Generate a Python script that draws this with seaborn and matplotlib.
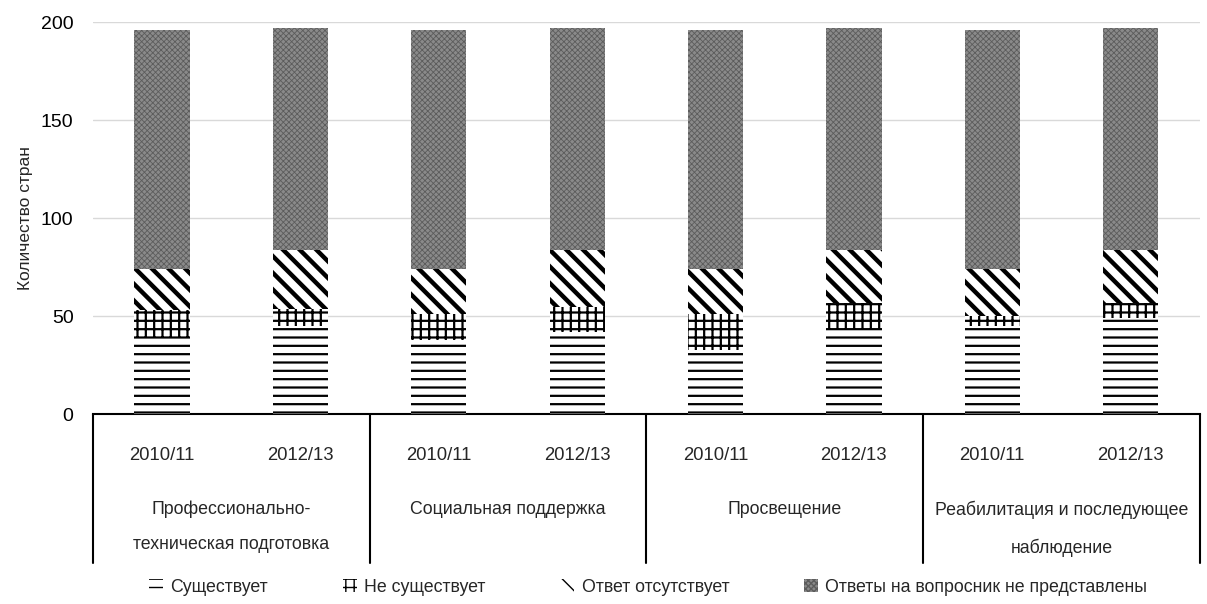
import numpy as np
import pandas as pd
import matplotlib
matplotlib.use('Agg')
import matplotlib.pyplot as plt
import matplotlib.transforms as mtransforms
from matplotlib.patches import Patch
import seaborn as sns

# data
groups = ['Профессионально-\nтехническая подготовка', 'Социальная поддержка',
          'Просвещение', 'Реабилитация и последующее\nнаблюдение']
years = ['2010/11', '2012/13']
exists = [39, 45, 38, 42, 33, 43, 45, 49]
not_exists = [14, 9, 13, 13, 18, 14, 5, 8]
no_answer = [21, 30, 23, 29, 23, 27, 24, 27]
not_submitted = [122, 113, 122, 113, 122, 113, 122, 113]
series_names = ['Существует', 'Не существует', 'Ответ отсутствует',
                'Ответы на вопросник не представлены']

sns.set_theme(style='white')
plt.rcParams['font.family'] = ['Liberation Sans', 'DejaVu Sans']

cats = [f'{g}|{y}' for g in groups for y in years]
df = pd.DataFrame({'cat': cats, 'exists': exists, 'not_exists': not_exists,
                   'no_answer': no_answer, 'not_submitted': not_submitted})
df['c1'] = df['exists']
df['c2'] = df['c1'] + df['not_exists']
df['c3'] = df['c2'] + df['no_answer']
df['c4'] = df['c3'] + df['not_submitted']

# (column, facecolor, hatch colour, hatch, hatch linewidth)
styles = [
    ('c4', '#8a8a8a', '#5c5c5c', 'xxxxxx', 0.6),
    ('c3', 'white', 'black', '\\\\', 3.2),
    ('c2', 'white', 'black', '++', 1.6),
    ('c1', 'white', 'black', '--', 1.6),
]

fig = plt.figure(figsize=(12.07, 6.04), dpi=100)
ax = fig.add_axes([0.077, 0.314, 0.917, 0.649])

legend_handles = {}
for col, fc, hc, hatch, hlw in styles:
    with plt.rc_context({'hatch.linewidth': hlw}):
        n0 = len(ax.patches)
        sns.barplot(data=df, x='cat', y=col, order=cats, color=fc, width=0.4,
                    saturation=1, ax=ax, zorder=3)
        for p in ax.patches[n0:]:
            p.set_facecolor(fc)
            p.set_edgecolor(hc)
            p.set_linewidth(0)
            p.set_hatch(hatch)
            if hasattr(p, 'set_hatch_linewidth'):
                p.set_hatch_linewidth(hlw)
        h = Patch(facecolor=fc, edgecolor=hc, hatch=hatch, linewidth=0)
        if hasattr(h, 'set_hatch_linewidth'):
            h.set_hatch_linewidth(hlw)
    legend_handles[col] = h

ax.set_ylim(0, 200)
ax.set_xlim(-0.5, len(cats) - 0.5)
ax.set_yticks([0, 50, 100, 150, 200])
ax.yaxis.grid(True, color='#d9d9d9', linewidth=1)
ax.set_axisbelow(True)
for s in ['left', 'right', 'top']:
    ax.spines[s].set_visible(False)
ax.spines['bottom'].set_color('black')
ax.spines['bottom'].set_linewidth(1.5)
ax.tick_params(axis='both', length=0, labelsize=14, colors='black')
ax.tick_params(axis='y', pad=14)
ax.set_xticks(range(len(cats)))
ax.set_xticklabels([])
ax.set_xlabel('')
ax.set_ylabel('Количество стран', fontsize=12.5, labelpad=6)

# multi-level category axis
trans = mtransforms.blended_transform_factory(ax.transData, ax.transAxes)
for i, c in enumerate(cats):
    ax.text(i, -0.105, c.split('|')[1], transform=trans, ha='center',
            va='center', fontsize=13.3)
for gi, g in enumerate(groups):
    ax.text(gi * 2 + 0.5, -0.22, g, transform=trans, ha='center', va='top',
            fontsize=12.8, linespacing=2.4)
for xb in np.arange(-0.5, len(cats), 2):
    ax.plot([xb, xb], [0, -0.38], transform=trans, color='black',
            linewidth=1.5, clip_on=False)

handles = [legend_handles[c] for c in ['c1', 'c2', 'c3', 'c4']]
fig.legend(handles=handles, labels=series_names, loc='center',
           bbox_to_anchor=(0.537, 0.028), ncol=4, frameon=False, fontsize=12.8,
           handlelength=0.8, handleheight=0.8, handletextpad=0.4,
           columnspacing=4.2)

fig.savefig('out.png', dpi=100)
